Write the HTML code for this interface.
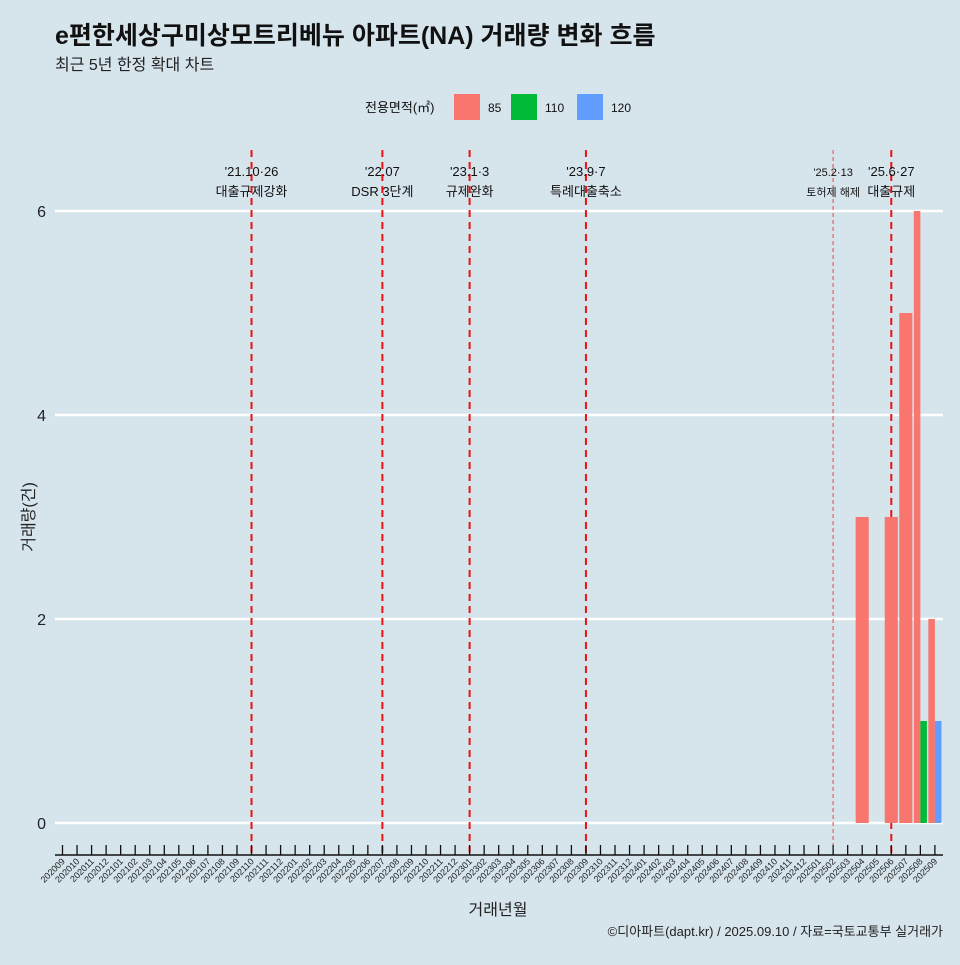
<!DOCTYPE html>
<html><head><meta charset="utf-8"><style>
body{margin:0;background:#d6e4ec;}
svg text{font-family:"Liberation Sans","Noto Sans CJK KR",sans-serif;}
</style></head><body>
<svg width="960" height="960" viewBox="0 0 960 960" xmlns="http://www.w3.org/2000/svg">
<rect width="960" height="960" fill="#d6e4ec"/>
<text x="55" y="44" font-size="25" font-weight="bold" fill="#111">e편한세상구미상모트리베뉴 아파트(NA) 거래량 변화 흐름</text>
<text x="55" y="70" font-size="16" fill="#222">최근 5년 한정 확대 차트</text>
<g id="legend">
<text x="365" y="112" font-size="13" fill="#111">전용면적(㎡)</text>
</g>
<g id="grid"></g><g id="vlines"></g><g id="bars"></g><g id="xaxis"></g><g id="yaxis"></g>
<text x="498" y="915" font-size="16" text-anchor="middle" fill="#222">거래년월</text>
<text transform="translate(34,517) rotate(-90)" font-size="16" text-anchor="middle" fill="#222">거래량(건)</text>
<text x="943" y="936" font-size="13" text-anchor="end" fill="#222">©디아파트(dapt.kr) / 2025.09.10 / 자료=국토교통부 실거래가</text>
</svg>
<script>
const months=[];for(let y=2020,m=9;!(y===2025&&m===10);){months.push(''+y+(m<10?'0':'')+m);m++;if(m>12){m=1;y++;}}
const seriesNames=['85','110','120'];
const seriesColors=['#F8766D','#00BA38','#619CFF'];
const barMonths=['202504','202506','202507','202508','202508','202509','202509'];
const barSeries=['85','85','85','85','110','85','120'];
const barValues=[3,3,5,6,1,2,1];
const yTicks=[0,2,4,6];
const eventMonths=['202110','202207','202301','202309','202502','202506'];
const eventLine1=["'21.10·26","'22.07","'23.1·3","'23.9·7","'25.2·13","'25.6·27"];
const eventLine2=['대출규제강화','DSR 3단계','규제완화','특례대출축소','토허제 해제','대출규제'];
const NS='http://www.w3.org/2000/svg';
function mk(p,t,a){const e=document.createElementNS(NS,t);for(const k in a)e.setAttribute(k,a[k]);p.appendChild(e);return e;}
const step=14.54,x0=62.5;
const xS=m=>x0+months.indexOf(m)*step;
const yS=v=>823-v*102;
const grid=document.getElementById('grid');
yTicks.forEach(v=>{const l=mk(grid,'line',{x1:55,x2:943,y1:yS(v),y2:yS(v),stroke:'#fff','stroke-width':2.5});


const t=mk(document.getElementById('yaxis'),'text',{x:46,y:yS(v)+6,'font-size':16,'text-anchor':'end',fill:'#222'});t.textContent=v;

});
const vl=document.getElementById('vlines');
eventMonths.forEach((m,i)=>{const x=xS(m);const faint=m==='202502';
const l=mk(vl,'line',{x1:x,x2:x,y1:150,y2:855,stroke:faint?'#e86060':'#ee1111','stroke-width':faint?1.2:2,'stroke-dasharray':faint?'4,3':'7,5'});


const fs=faint?11:13;
const a=mk(vl,'text',{x:x,y:176,'font-size':fs,'text-anchor':'middle',fill:'#111'});a.textContent=eventLine1[i];


const b=mk(vl,'text',{x:x,y:196,'font-size':fs,'text-anchor':'middle',fill:'#111'});b.textContent=eventLine2[i];

});
const bg=document.getElementById('bars');
const bandW=step*0.9;
barMonths.forEach((m,i)=>{const same=barMonths.map((mm,j)=>mm===m?j:-1).filter(j=>j>=0);
const k=same.indexOf(i),n=same.length,w=bandW/n;const x=xS(m)-bandW/2+k*w;
const r=mk(bg,'rect',{x:x,y:yS(barValues[i]),width:w,height:yS(0)-yS(barValues[i]),fill:seriesColors[seriesNames.indexOf(barSeries[i])]});

});
const xa=document.getElementById('xaxis');
const al=mk(xa,'line',{x1:55,x2:943,y1:855,y2:855,stroke:'#111','stroke-width':1.5});


months.forEach(m=>{const x=xS(m);mk(xa,'line',{x1:x,x2:x,y1:845,y2:855,stroke:'#111','stroke-width':1.3});
const t=mk(xa,'text',{transform:`translate(${x+3},862) rotate(-45)`,'font-size':9,'text-anchor':'end',fill:'#222'});t.textContent=m;

});
const lg=document.getElementById('legend');
const lx=[454,511,577];
seriesNames.forEach((s,i)=>{const r=mk(lg,'rect',{x:lx[i],y:94,width:26,height:26,fill:seriesColors[i]});


const t=mk(lg,'text',{x:lx[i]+34,y:112,'font-size':12,fill:'#111'});t.textContent=s;

});
</script>
</body></html>
